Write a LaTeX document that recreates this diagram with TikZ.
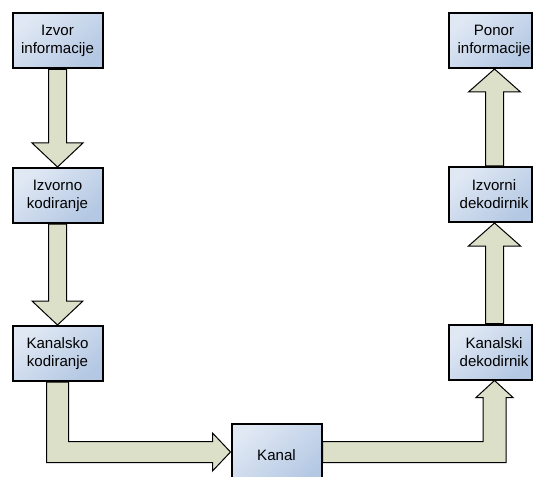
\documentclass[tikz,border=0pt]{standalone}
\usepackage{fontspec}
\setmainfont{Liberation Sans}
\usetikzlibrary{calc,backgrounds}
\definecolor{boxlight}{RGB}{224,232,244}
\definecolor{boxdark}{RGB}{180,200,227}
\definecolor{arrowfill}{RGB}{221,224,200}
\begin{document}
\begin{tikzpicture}[x=0.75pt,y=-0.75pt,
  txt/.style={align=center,font=\fontsize{11.3pt}{13.6pt}\selectfont,inner sep=0pt},
  box/.style={draw=black,line width=1.5pt,top color=boxlight,bottom color=boxdark,shading angle=40,
    minimum width=67.5pt,minimum height=41.25pt,inner sep=0pt,txt},
  rbox/.style={box,minimum width=62.25pt},
  fat/.style={draw=black,line width=0.75pt,fill=arrowfill,line join=miter}]
\useasboundingbox (0,0) rectangle (534,477);
% left column
\node[box] (b1) at (57.5,41) {Izvor\\informacije};
\node[box] (b2) at (57.5,195.5) {Izvorno\\kodiranje};
\node[box] (b3) at (57.5,353.5) {Kanalsko\\kodiranje};
% channel
\node[box,minimum height=46.5pt] (kanal) at (276.5,455) {Kanal};
% right column
\node[rbox,label={[txt,xshift=2.6pt]center:Ponor\\informacije}] (r1) at (490.5,40.5) {};
\node[rbox,label={[txt,xshift=2.6pt]center:Izvorni\\dekodirnik}] (r2) at (490.5,194.5) {};
\node[rbox,label={[txt,xshift=2.6pt]center:Kanalski\\dekodirnik}] (r3) at (490.5,352) {};
\begin{scope}[on background layer]
% down arrows on the left
\foreach \s/\t in {b1/b2,b2/b3}{
  \draw[fat] ($(\s.south)+(-9,0)$) -- ($(\t.north)+(-9,-24)$) -- ($(\t.north)+(-25.5,-24)$)
    -- (\t.north) -- ($(\t.north)+(25.5,-24)$) -- ($(\t.north)+(9,-24)$) -- ($(\s.south)+(9,0)$) -- cycle;
}
% up arrows on the right
\foreach \s/\t in {r2/r1,r3/r2}{
  \coordinate (s) at ($(\s.north)+(4,0)$);
  \coordinate (t) at ($(\t.south)+(4,0)$);
  \draw[fat] ($(s)+(-9,0)$) -- ($(t)+(-9,23)$) -- ($(t)+(-26,23)$)
    -- (t) -- ($(t)+(26,23)$) -- ($(t)+(9,23)$) -- ($(s)+(9,0)$) -- cycle;
}
% L-arrow into the channel
\coordinate (kt) at ($(kanal.west)+(0,-3)$);
\draw[fat] ($(b3.south)+(-11,0)$) |- ($(kt)+(-18,10.5)$) -- ($(kt)+(-18,19)$) -- (kt)
  -- ($(kt)+(-18,-19)$) -- ($(kt)+(-18,-10.5)$) -| ($(b3.south)+(11,0)$) -- cycle;
% L-arrow out of the channel
\coordinate (ke) at ($(kanal.east)+(0,-3)$);
\coordinate (rt) at ($(r3.south)+(4,0)$);
\draw[fat] ($(ke)+(0,-10.5)$) -| ($(rt)+(-11.5,17)$) -- ($(rt)+(-18.5,17)$) -- (rt)
  -- ($(rt)+(18.5,17)$) -- ($(rt)+(11.5,17)$) |- ($(ke)+(0,10.5)$) -- cycle;
\end{scope}
\end{tikzpicture}
\end{document}
